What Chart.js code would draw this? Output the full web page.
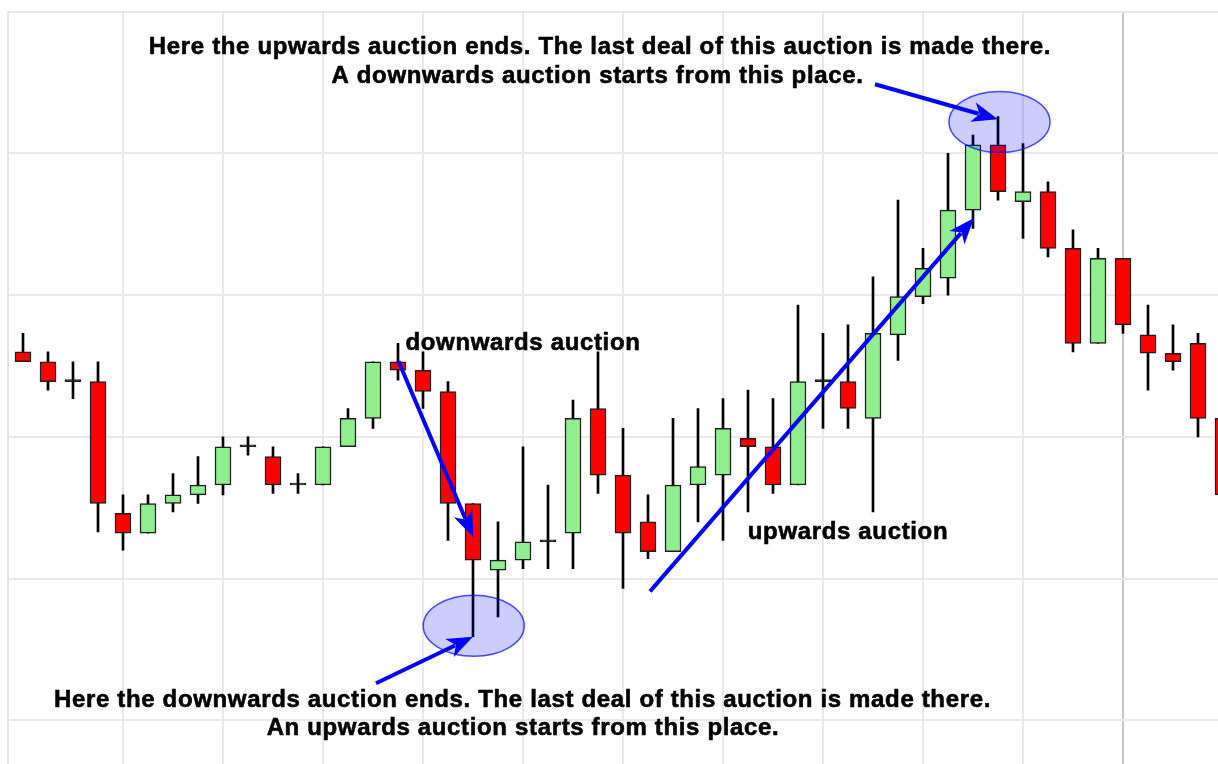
<!DOCTYPE html>
<html>
<head>
<meta charset="utf-8">
<title>Auction candles</title>
<script src="https://cdn.jsdelivr.net/npm/chart.js@4.4.1/dist/chart.umd.min.js"></script>
<style>
  html, body { margin: 0; padding: 0; background: #fff; overflow: hidden; }
  #wrap { width: 1245px; height: 862px; }
</style>
</head>
<body>
<div id="wrap"><canvas id="auctionChart" width="1245" height="862"></canvas></div>
<script>
// ========== Data ==========
const opens  = [116.0, 115.3, 113.9, 113.9, 104.6, 103.2, 105.3, 105.9, 106.6, 109.3,
                108.6, 106.6, 106.6, 109.3, 111.3, 115.3, 114.7, 113.2, 105.3, 100.6,
                101.3, 102.6, 103.2, 112.0, 107.3, 104.0, 101.9, 106.6, 107.3, 109.9,
                109.3, 106.6, 113.9, 113.9, 111.3, 117.2, 119.9, 121.2, 126.0, 130.6,
                126.6, 127.3, 123.3, 116.6, 122.6, 117.2, 115.9, 116.6, 111.3];
const highs  = [117.3, 116.0, 115.3, 115.3, 105.9, 105.9, 107.4, 108.6, 110.0, 110.0,
                109.3, 107.4, 109.3, 112.0, 115.3, 116.6, 116.0, 113.9, 105.3, 104.0,
                109.3, 106.6, 112.6, 116.0, 110.6, 105.9, 111.3, 112.0, 112.7, 113.3,
                112.7, 119.3, 117.3, 117.9, 121.3, 126.7, 123.3, 130.0, 131.3, 132.6,
                130.7, 128.0, 124.6, 123.3, 122.6, 119.3, 117.9, 117.3, 111.6];
const lows   = [115.3, 113.3, 112.7, 103.3, 102.0, 103.2, 104.7, 105.3, 105.9, 108.7,
                106.0, 106.0, 106.6, 109.3, 110.6, 114.0, 112.0, 102.7, 95.9, 97.3,
                100.7, 100.7, 100.7, 106.0, 99.3, 101.4, 101.9, 104.0, 102.7, 104.7,
                106.0, 106.6, 110.6, 110.6, 104.7, 115.4, 119.4, 120.0, 124.7, 126.7,
                124.0, 122.7, 116.0, 116.6, 117.3, 113.3, 114.7, 110.0, 104.8];
const closes = [115.3, 113.9, 113.9, 105.3, 103.2, 105.3, 105.9, 106.6, 109.3, 109.3,
                106.6, 106.6, 109.3, 111.3, 115.3, 114.7, 113.2, 105.3, 101.3, 101.3,
                102.6, 102.6, 111.3, 107.3, 103.2, 101.9, 106.6, 107.9, 110.6, 109.3,
                106.6, 113.9, 113.9, 112.0, 117.3, 119.9, 121.9, 126.0, 130.6, 127.3,
                127.3, 123.3, 116.6, 122.6, 117.9, 115.9, 115.3, 111.3, 105.9];

// axis range and grid steps
const priceMin = 80, priceMax = 140, priceStep = 10;
const sessionStep = 4;
const markerSession = 44;

// notes drawn over the chart (x = session index, y = price)
const ellipses = [
  { x: 39.06, y: 132.22 },
  { x: 18.03, y: 96.67 }
];
const arrows = [
  { from: [34.08, 134.88], to: [39.0, 132.41] },
  { from: [15.02, 115.34], to: [18.01, 102.91] },
  { from: [25.08, 99.10],  to: [38.04, 125.44] },
  { from: [14.12, 92.61],  to: [18.0, 95.89] }
];
const notes = [
  { text: "Here the upwards auction ends. The last deal of this auction is made there.", x: 23.08, y: 137.0 },
  { text: "A downwards auction starts from this place.", x: 22.98, y: 134.99 },
  { text: "downwards auction", x: 20.0, y: 116.15 },
  { text: "upwards auction", x: 33.0, y: 102.81 },
  { text: "Here the downwards auction ends. The last deal of this auction is made there.", x: 19.98, y: 90.94 },
  { text: "An upwards auction starts from this place.", x: 20.0, y: 88.94 }
];

// ========== Build datasets ==========
const wickData = highs.map((h, i) => ({ x: i, y: [lows[i], h] }));
const bodyData = opens.map((o, i) => ({ x: i, y: [o, closes[i]] }));
const bodyColors = opens.map((o, i) =>
  closes[i] === o ? "#111" : (closes[i] > o ? "#90EE90" : "#FF0000"));

function drawArrow(ctx, x1, y1, x2, y2) {
  const ang = Math.atan2(y2 - y1, x2 - x1);
  const len = 26, half = 10;
  const cos = Math.cos(ang), sin = Math.sin(ang);
  const bx = x2 - cos * len, by = y2 - sin * len;
  ctx.beginPath();
  ctx.moveTo(x1, y1);
  ctx.lineTo(bx + cos * 6, by + sin * 6);
  ctx.stroke();
  ctx.beginPath();
  ctx.moveTo(x2, y2);
  ctx.lineTo(bx - sin * half, by + cos * half);
  ctx.lineTo(bx + cos * 7, by + sin * 7);
  ctx.lineTo(bx + sin * half, by - cos * half);
  ctx.closePath();
  ctx.fill();
}

const notesPlugin = {
  id: "auctionNotes",
  afterDatasetsDraw(chart) {
    const { ctx } = chart;
    const xs = chart.scales.x, ys = chart.scales.y;
    ctx.save();

    ellipses.forEach(e => {
      ctx.beginPath();
      ctx.ellipse(xs.getPixelForValue(e.x), ys.getPixelForValue(e.y), 50.5, 30.5, 0, 0, Math.PI * 2);
      ctx.fillStyle = "rgba(0, 0, 255, 0.2)";
      ctx.fill();
      ctx.strokeStyle = "rgba(0, 0, 255, 0.7)";
      ctx.lineWidth = 1.5;
      ctx.stroke();
    });

    ctx.strokeStyle = "#0000FF";
    ctx.fillStyle = "#0000FF";
    ctx.lineWidth = 4;
    ctx.lineCap = "butt";
    arrows.forEach(a => {
      drawArrow(ctx,
        xs.getPixelForValue(a.from[0]), ys.getPixelForValue(a.from[1]),
        xs.getPixelForValue(a.to[0]), ys.getPixelForValue(a.to[1]));
    });

    ctx.fillStyle = "#000";
    ctx.strokeStyle = "#000";
    ctx.lineWidth = 0.6;
    ctx.font = "bold 24px 'Liberation Sans', Arial, sans-serif";
    ctx.textAlign = "center";
    ctx.textBaseline = "alphabetic";
    if ("letterSpacing" in ctx) ctx.letterSpacing = "0.65px";
    notes.forEach(n => {
      const px = xs.getPixelForValue(n.x), py = ys.getPixelForValue(n.y);
      ctx.fillText(n.text, px, py);
      ctx.strokeText(n.text, px, py);
    });
    ctx.restore();
  }
};

// ========== Chart.js ==========
const ctx1 = document.getElementById("auctionChart").getContext("2d");
new Chart(ctx1, {
  type: "bar",
  data: {
    datasets: [
      {
        label: "Wick",
        data: wickData,
        backgroundColor: "#000",
        borderWidth: 0,
        barThickness: 2,
        grouped: false,
        order: 2
      },
      {
        label: "Body",
        data: bodyData,
        backgroundColor: bodyColors,
        borderColor: "#1e1e1e",
        borderWidth: 1.5,
        borderSkipped: false,
        barThickness: 16,
        minBarLength: 2,
        grouped: false,
        order: 1
      }
    ]
  },
  options: {
    responsive: false,
    animation: false,
    devicePixelRatio: 1,
    layout: { padding: { left: 7.5, top: 11.7, right: 0, bottom: 0 } },
    plugins: {
      legend: { display: false },
      tooltip: { enabled: false }
    },
    scales: {
      x: {
        type: "linear",
        offset: false,
        min: -0.62,
        max: 48.88,
        ticks: { display: false, stepSize: sessionStep },
        grid: {
          offset: false,
          drawTicks: false,
          lineWidth: 2,
          color: c => (c.tick && c.tick.value === markerSession) ? "#c6c6c6" : "#e8e8e8"
        },
        border: { display: false }
      },
      y: {
        min: priceMin,
        max: priceMax,
        ticks: { display: false, stepSize: priceStep },
        grid: { drawTicks: false, lineWidth: 2, color: "#e8e8e8" },
        border: { display: true, color: "#e4e4e4", width: 2 }
      }
    }
  },
  plugins: [notesPlugin]
});
</script>
</body>
</html>
